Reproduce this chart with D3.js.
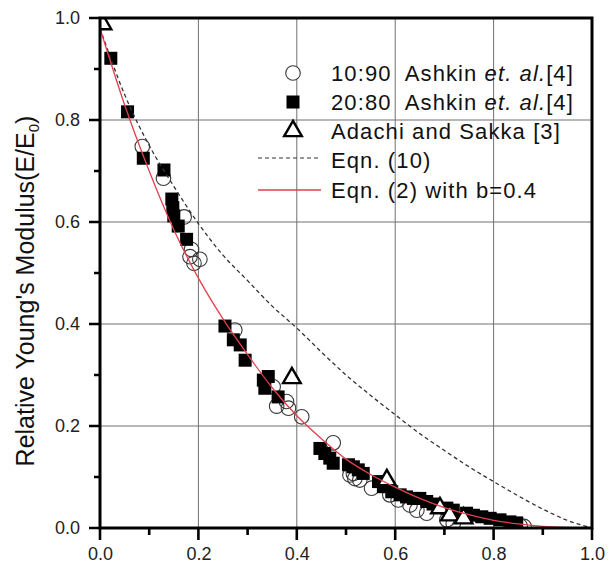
<!DOCTYPE html>
<html>
<head>
<meta charset="utf-8">
<script src="https://cdn.jsdelivr.net/npm/d3@7"></script>
<style>
  html, body { margin: 0; padding: 0; background: #fff; }
  svg text { font-family: "Liberation Sans", Arial, Helvetica, sans-serif; fill: #111; }
</style>
</head>
<body>
<svg id="chart" width="616" height="568"></svg>
<script>
// Porosity fraction (x) vs relative Young's modulus E/E0 (y)

// 10:90 Ashkin et al. — open circles
const ashkin1090X = [0.086, 0.129, 0.171, 0.186, 0.203, 0.191, 0.183, 0.274, 0.352, 0.359, 0.379, 0.383, 0.410,
  0.474, 0.508, 0.518, 0.528, 0.515, 0.552, 0.589, 0.606, 0.630, 0.644, 0.664, 0.705, 0.718, 0.854, 0.862];
const ashkin1090Y = [0.748, 0.686, 0.610, 0.546, 0.527, 0.519, 0.532, 0.388, 0.277, 0.239, 0.248, 0.235, 0.218,
  0.167, 0.104, 0.097, 0.094, 0.107, 0.078, 0.065, 0.055, 0.045, 0.035, 0.029, 0.016, 0.009, 0.004, 0.003];

// 20:80 Ashkin et al. — filled squares
const ashkin2080X = [0.022, 0.056, 0.088, 0.130, 0.146, 0.148, 0.150, 0.159, 0.176,
  0.254, 0.271, 0.285, 0.295, 0.332, 0.335, 0.342, 0.362,
  0.447, 0.457, 0.467, 0.474, 0.505, 0.515, 0.525, 0.535, 0.566,
  0.576, 0.593, 0.610, 0.623, 0.637, 0.650, 0.664, 0.677, 0.705, 0.718, 0.745, 0.759, 0.776, 0.793, 0.813, 0.833, 0.847];
const ashkin2080Y = [0.921, 0.816, 0.725, 0.702, 0.645, 0.628, 0.612, 0.592, 0.566,
  0.396, 0.369, 0.359, 0.329, 0.290, 0.274, 0.297, 0.257,
  0.156, 0.146, 0.137, 0.127, 0.124, 0.120, 0.114, 0.107, 0.091,
  0.081, 0.071, 0.065, 0.061, 0.058, 0.058, 0.052, 0.047, 0.039, 0.035, 0.029, 0.025, 0.022, 0.019, 0.016, 0.012, 0.010];

// Adachi and Sakka — open triangles
const adachiX = [0.005, 0.390, 0.583, 0.691, 0.711, 0.739];
const adachiY = [0.988, 0.294, 0.094, 0.039, 0.025, 0.019];

// Model curves sampled along porosity
const curveP   = [0, 0.05, 0.1, 0.15, 0.2, 0.25, 0.3, 0.35, 0.4, 0.45, 0.5, 0.55, 0.6, 0.65, 0.7, 0.75, 0.8, 0.85, 0.9, 0.95, 1.0];
const eqn10Y   = [0.98, 0.85, 0.75, 0.67, 0.597, 0.535, 0.485, 0.435, 0.392, 0.345, 0.30, 0.26, 0.222, 0.185, 0.152, 0.12, 0.091, 0.063, 0.037, 0.015, 0];
const eqn2Y    = [0.98, 0.83, 0.70, 0.585, 0.49, 0.41, 0.34, 0.275, 0.22, 0.175, 0.135, 0.105, 0.08, 0.058, 0.04, 0.026, 0.015, 0.008, 0.003, 0.001, 0];

const majorTicks = [0, 0.2, 0.4, 0.6, 0.8, 1.0];
const minorTicks = [0.1, 0.3, 0.5, 0.7, 0.9];
const gridTicks  = [0.2, 0.4, 0.6, 0.8];

const legendLabels = ["10:90  Ashkin ", "20:80  Ashkin ", "Adachi and Sakka [3]", "Eqn. (10)", "Eqn. (2) with b=0.4"];

const svg = d3.select("#chart");
const plotL = 100, plotR = 592, plotT = 18, plotB = 528;

const x = d3.scaleLinear().domain([0, 1]).range([plotL, plotR]);
const y = d3.scaleLinear().domain([0, 1]).range([plotB, plotT]);

// gridlines
const grid = svg.append("g").attr("stroke", "#707070").attr("stroke-width", 1);
grid.selectAll(".gx").data(gridTicks).join("line").attr("class", "gx")
  .attr("x1", d => x(d)).attr("x2", d => x(d)).attr("y1", plotT).attr("y2", plotB);
grid.selectAll(".gy").data(gridTicks).join("line").attr("class", "gy")
  .attr("y1", d => y(d)).attr("y2", d => y(d)).attr("x1", plotL).attr("x2", plotR);

// clip data to plot area
svg.append("clipPath").attr("id", "plotClip")
  .append("rect").attr("x", plotL).attr("y", plotT).attr("width", plotR - plotL).attr("height", plotB - plotT);
const plot = svg.append("g").attr("clip-path", "url(#plotClip)");

const zip = (xs, ys) => xs.map((v, i) => [v, ys[i]]);

// open circles
plot.append("g").selectAll("circle").data(zip(ashkin1090X, ashkin1090Y)).join("circle")
  .attr("cx", d => x(d[0])).attr("cy", d => y(d[1])).attr("r", 7.3)
  .attr("fill", "none").attr("stroke", "#3a3a3a").attr("stroke-width", 1.1);

// filled squares
const sq = 13;
plot.append("g").selectAll("rect").data(zip(ashkin2080X, ashkin2080Y)).join("rect")
  .attr("x", d => x(d[0]) - sq / 2).attr("y", d => y(d[1]) - sq / 2)
  .attr("width", sq).attr("height", sq).attr("fill", "#000");

// open triangles
const tri = d3.symbol().type(d3.symbolTriangle).size(135);
plot.append("g").selectAll("path").data(zip(adachiX, adachiY)).join("path")
  .attr("d", tri).attr("transform", d => `translate(${x(d[0])},${y(d[1])})`)
  .attr("fill", "#fff").attr("stroke", "#000").attr("stroke-width", 2.4);

// model curves
const curveLine = d3.line().x(d => x(d[0])).y(d => y(d[1])).curve(d3.curveMonotoneX);
plot.append("path").datum(zip(curveP, eqn10Y)).attr("d", curveLine)
  .attr("fill", "none").attr("stroke", "#333").attr("stroke-width", 1.3).attr("stroke-dasharray", "4,3");
plot.append("path").datum(zip(curveP, eqn2Y)).attr("d", curveLine)
  .attr("fill", "none").attr("stroke", "#e2404c").attr("stroke-width", 1.3);

// tick labels from d3 axes
const fmt = d3.format(".1f");
const axes = svg.append("g").attr("class", "axes");
axes.append("g").attr("transform", `translate(0,${plotB})`)
  .call(d3.axisBottom(x).tickValues(majorTicks).tickFormat(fmt).tickSize(0).tickPadding(19));
axes.append("g").attr("transform", `translate(${plotL},0)`)
  .call(d3.axisLeft(y).tickValues(majorTicks).tickFormat(fmt).tickSize(0).tickPadding(20));
axes.selectAll(".domain").remove();
axes.selectAll(".tick line").remove();
axes.selectAll(".tick text").attr("font-size", 18).style("fill", "#222")
  .attr("font-family", "'Liberation Sans', Arial, sans-serif");

// outward tick marks (major and minor)
const tickPath = d3.path();
majorTicks.forEach(d => { tickPath.moveTo(x(d), plotB); tickPath.lineTo(x(d), plotB + 12); });
minorTicks.forEach(d => { tickPath.moveTo(x(d), plotB); tickPath.lineTo(x(d), plotB + 7); });
majorTicks.forEach(d => { tickPath.moveTo(plotL, y(d)); tickPath.lineTo(plotL - 11, y(d)); });
minorTicks.forEach(d => { tickPath.moveTo(plotL, y(d)); tickPath.lineTo(plotL - 6, y(d)); });
svg.append("path").attr("d", tickPath.toString())
  .attr("fill", "none").attr("stroke", "#000").attr("stroke-width", 2.6);

// frame
svg.append("rect").attr("x", plotL).attr("y", plotT).attr("width", plotR - plotL).attr("height", plotB - plotT)
  .attr("fill", "none").attr("stroke", "#000").attr("stroke-width", 3);

// y axis title
const yt = svg.append("text")
  .attr("transform", `translate(34,291) rotate(-90)`)
  .attr("text-anchor", "middle").attr("font-size", 25).attr("fill", "#222");
yt.append("tspan").text("Relative Young's Modulus(E/E");
yt.append("tspan").attr("font-size", 15).attr("dy", 5).text("0");
yt.append("tspan").attr("dy", -5).text(")");

// legend
const lg = svg.append("g");
const rowY = [73, 102, 131, 160, 190];
const tx = 331;
lg.append("circle").attr("cx", 293).attr("cy", rowY[0]).attr("r", 7.3)
  .attr("fill", "#fff").attr("stroke", "#3a3a3a").attr("stroke-width", 1.1);
lg.append("rect").attr("x", 293 - sq / 2).attr("y", rowY[1] - sq / 2).attr("width", sq).attr("height", sq).attr("fill", "#000");
lg.append("path").attr("d", tri).attr("transform", `translate(293,${rowY[2]})`)
  .attr("fill", "#fff").attr("stroke", "#000").attr("stroke-width", 2.4);
lg.append("line").attr("x1", 258).attr("x2", 321).attr("y1", rowY[3] - 2).attr("y2", rowY[3] - 2)
  .attr("stroke", "#333").attr("stroke-width", 1.2).attr("stroke-dasharray", "4,3");
lg.append("line").attr("x1", 258).attr("x2", 321).attr("y1", rowY[4]).attr("y2", rowY[4])
  .attr("stroke", "#e2404c").attr("stroke-width", 1.3);

legendLabels.forEach((lab, i) => {
  const t = lg.append("text").attr("x", tx).attr("y", rowY[i] + 8)
    .attr("font-size", 22).attr("letter-spacing", 1.1).attr("fill", "#222")
    .style("white-space", "pre");
  t.append("tspan").text(lab);
  if (i < 2) {
    t.append("tspan").attr("font-style", "italic").text("et. al.");
    t.append("tspan").text("[4]");
  }
});
</script>
</body>
</html>
